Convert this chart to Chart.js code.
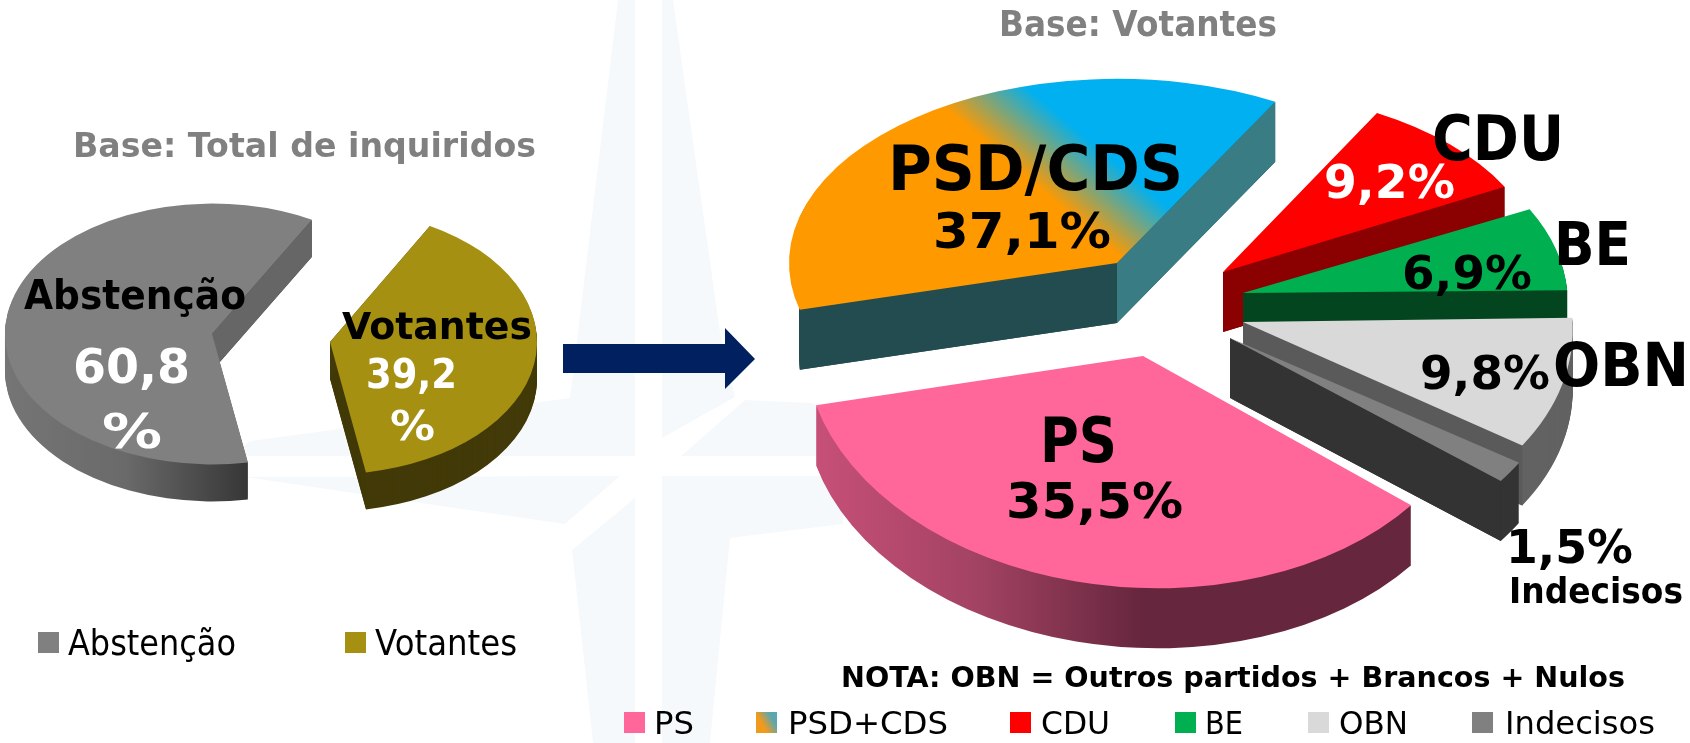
<!DOCTYPE html>
<html lang="pt">
<head>
<meta charset="utf-8">
<title>Base: Total de inquiridos / Votantes</title>
<script src="https://cdn.jsdelivr.net/npm/chart.js@4"></script>
<style>
    html, body { margin: 0; padding: 0; background: #fff; overflow: hidden; }
    #page { position: relative; width: 1690px; height: 743px; overflow: hidden; }
    #page canvas, #page svg { position: absolute; left: 0; top: 0; }
    .txt { position: absolute; white-space: pre; transform-origin: 0 50%; font-family: 'DejaVu Sans', sans-serif; }
    .box { position: absolute; width: 21px; height: 21px; }
</style>
</head>
<body>
<div id="page">
    <!-- filigrana de fundo e seta -->
    <svg width="1690" height="743">
        <g fill="#f6f9fc">
            <polygon points="618,0 635,0 635,456 232,456 250,441 570,398"/>
            <polygon points="662,0 673,0 720,332 735,397 662,438"/>
            <polygon points="681,456 745,400 810,403 1000,456"/>
            <polygon points="245,477 620,476 565,524 400,500"/>
            <polygon points="662,476 843,476 843,524 730,538 710,743 662,743"/>
            <polygon points="635,498 635,743 593,743 572,550"/>
        </g>
        <polygon fill="#002060" points="563,344 725,344 725,328 755,359 725,389 725,373 563,373"/>
    </svg>
    <canvas id="leftPie" width="1690" height="743"></canvas>
    <canvas id="rightPie" width="1690" height="743"></canvas>
</div>
<script>
const leftLabels = ['Abstenção', 'Votantes'];
const leftValues = [60.8, 39.2];
const rightLabels = ['PS', 'PSD/CDS', 'CDU', 'BE', 'OBN', 'Indecisos'];
const rightLegend = ['PS', 'PSD+CDS', 'CDU', 'BE', 'OBN', 'Indecisos'];
const rightValues = [35.5, 37.1, 9.2, 6.9, 9.8, 1.5];

function pct(v) { return String(v).replace('.', ','); }

// Fatias "3D": cada arco do Chart.js e achatado, deslocado e extrudido para baixo
// slices = [dx, dy, escalaX, escalaY, inclinacao] em relacao ao centro do grafico
function pie3d(slices, walls, depth, edges) {
    return {
        id: 'pie3d',
        beforeDatasetsDraw(chart) {
            const ctx = chart.ctx;
            chart.getDatasetMeta(0).data.forEach(function (arc, i) {
                const [dx, dy, sx, sy, shear] = slices[i];
                const place = function (down) {
                    ctx.translate(arc.x + dx, arc.y + dy + down);
                    ctx.transform(sx, shear, 0, sy, 0, 0);
                    ctx.translate(-arc.x, -arc.y);
                };
                const ax = arc.x + dx, ay = arc.y + dy;
                const corner = function (a) {
                    const c = arc.outerRadius * Math.cos(a), s = arc.outerRadius * Math.sin(a);
                    return [ax + sx * c, ay + sy * s + shear * c];
                };
                const sideEdges = edges[i] || [];

                const own = arc.options;
                arc.options = Object.assign({}, own, { backgroundColor: walls[i] });
                ctx.save();
                sideEdges.forEach(function (e) {
                    // parede cortada na vertical no canto da fatia
                    if (e.clip) {
                        ctx.beginPath();
                        ctx.rect(corner(e.side === 'start' ? arc.startAngle : arc.endAngle)[0], 0, chart.width, chart.height);
                        ctx.clip();
                    }
                });
                for (let d = depth; d > 0; d--) {
                    ctx.save();
                    place(d);
                    arc.draw(ctx);
                    ctx.restore();
                }
                ctx.restore();
                arc.options = own;

                // paredes dos cortes com cor propria
                sideEdges.forEach(function (e) {
                    const [bx, by] = corner(e.side === 'start' ? arc.startAngle : arc.endAngle);
                    ctx.fillStyle = e.color;
                    ctx.beginPath();
                    ctx.moveTo(ax, ay);
                    ctx.lineTo(bx, by);
                    ctx.lineTo(bx, by + depth);
                    ctx.lineTo(ax, ay + depth);
                    ctx.closePath();
                    ctx.fill();
                });

                ctx.save();
                place(0);
                arc.draw(ctx);
                ctx.restore();
            });
            return false;
        }
    };
}

function makePie(id, labels, values, colors, rotation, radius, padding, plugin) {
    return new Chart(document.getElementById(id), {
        type: 'pie',
        data: {
            labels: labels,
            datasets: [{ data: values, backgroundColor: colors, borderWidth: 0 }]
        },
        options: {
            responsive: false,
            animation: false,
            rotation: rotation,
            radius: radius,
            layout: { padding: padding },
            events: [],
            plugins: { legend: { display: false }, tooltip: { enabled: false } }
        },
        plugins: [plugin]
    });
}

function hGrad(ctx, x0, x1, stops) {
    const g = ctx.createLinearGradient(x0, 0, x1, 0);
    stops.forEach(function (c, i) { g.addColorStop(i / (stops.length - 1), c); });
    return g;
}

// Grafico da esquerda (centro 212,331)
const leftCtx = document.getElementById('leftPie').getContext('2d');
makePie('leftPie', leftLabels, leftValues, ['#808080', '#a69012'], 170, 207,
    { left: 0, right: 1266, top: 0, bottom: 81 },
    pie3d(
        [[0, 3, 1, 0.63, 0], [118, 11, 1, 0.64, 0]],
        [hGrad(leftCtx, 5, 245, ['#757575', '#6a6a6a', '#383838']), '#423a08'],
        37,
        [[{ side: 'end', color: '#666666' }], [{ side: 'start', color: '#423a08' }]]
    ));

// Grafico da direita (centro 1120,300)
const rightCtx = document.getElementById('rightPie').getContext('2d');
const psdTop = rightCtx.createLinearGradient(1065 - 38, 119 + 25, 1065 + 38, 119 - 25);
psdTop.addColorStop(0, '#ff9900');
psdTop.addColorStop(1, '#00b0f0');
makePie('rightPie', rightLabels, rightValues,
    ['#ff6699', psdTop, '#ff0000', '#00b050', '#d9d9d9', '#808080'], 127.5, 333,
    { left: 550, right: 0, top: 0, bottom: 143 },
    pie3d(
        [
            [23, 56, 1.015, 0.697, 0.03],
            [-3, -37, 0.985, 0.553, 0],
            [103, -28, 0.958, 0.545, 0],
            [123, -7, 0.975, 0.58, 0.024],
            [123, 22, 0.99, 0.66, 0.024],
            [110, 38, 1.025, 0.705, 0]
        ],
        [
            hGrad(rightCtx, 790, 1120, ['#c85079', '#a34363', '#66263d']),
            '#234c50', '#8b0000', '#03451f', '#626262', '#333333'
        ],
        60,
        [
            null,
            [{ side: 'start', color: '#234c50', clip: true }, { side: 'end', color: '#3a7c84' }],
            [{ side: 'end', color: '#8b0000' }],
            [{ side: 'end', color: '#03451f' }],
            [{ side: 'end', color: '#5a5a5a' }],
            [{ side: 'end', color: '#333333' }]
        ]
    ));

// Textos: [texto, x inicial, x final, linha de base, corpo, peso, cor]
const texts = [
    ['Base: Total de inquiridos', 73, 536, 157, 34, 'bold', '#808080'],
    ['Base: Votantes', 999, 1277, 36, 35, 'bold', '#808080'],
    [leftLabels[0], 24, 246, 309, 40, 'bold', '#000'],
    [pct(leftValues[0]), 73, 190, 383, 48, 'bold', '#fff'],
    ['%', 102, 162, 448, 48, 'bold', '#fff'],
    [leftLabels[1], 342, 532, 339, 38, 'bold', '#000'],
    [pct(leftValues[1]), 366, 457, 388, 40, 'bold', '#fff'],
    ['%', 390, 435, 440, 40, 'bold', '#fff'],
    [rightLabels[1], 888, 1183, 190, 62, 'bold', '#000'],
    [pct(rightValues[1]) + '%', 933, 1111, 248, 50, 'bold', '#000'],
    [rightLabels[2], 1432, 1564, 160, 63, 'bold', '#000'],
    [pct(rightValues[2]) + '%', 1324, 1455, 198, 46, 'bold', '#fff'],
    [rightLabels[3], 1554, 1631, 265, 60, 'bold', '#000'],
    [pct(rightValues[3]) + '%', 1402, 1532, 289, 46, 'bold', '#000'],
    [rightLabels[4], 1553, 1689, 386, 60, 'bold', '#000'],
    [pct(rightValues[4]) + '%', 1420, 1550, 389, 46, 'bold', '#000'],
    [pct(rightValues[5]) + '%', 1506, 1633, 563, 46, 'bold', '#000'],
    [rightLabels[5], 1509, 1683, 603, 35, 'bold', '#000'],
    [rightLabels[0], 1040, 1117, 462, 62, 'bold', '#000'],
    [pct(rightValues[0]) + '%', 1006, 1183, 518, 50, 'bold', '#000'],
    ['NOTA: OBN = Outros partidos + Brancos + Nulos', 841, 1625, 687, 29, 'bold', '#000'],
    // legendas
    [leftLabels[0], 68, 236, 655, 36, 'normal', '#000'],
    [leftLabels[1], 375, 517, 655, 36, 'normal', '#000'],
    [rightLegend[0], 654, 694, 734, 32, 'normal', '#000'],
    [rightLegend[1], 788, 948, 734, 32, 'normal', '#000'],
    [rightLegend[2], 1041, 1110, 734, 32, 'normal', '#000'],
    [rightLegend[3], 1205, 1243, 734, 32, 'normal', '#000'],
    [rightLegend[4], 1339, 1408, 734, 32, 'normal', '#000'],
    [rightLegend[5], 1505, 1655, 734, 32, 'normal', '#000']
];

const page = document.getElementById('page');
const measure = document.createElement('canvas').getContext('2d');
texts.forEach(function (t) {
    const [str, x0, x1, base, size, weight, color] = t;
    measure.font = weight + ' ' + size + "px 'DejaVu Sans'";
    const m = measure.measureText(str);
    const el = document.createElement('div');
    el.className = 'txt';
    el.textContent = str;
    el.style.font = measure.font;
    el.style.lineHeight = size + 'px';
    el.style.color = color;
    el.style.left = x0 + 'px';
    el.style.top = (base - ((size - m.fontBoundingBoxAscent - m.fontBoundingBoxDescent) / 2 + m.fontBoundingBoxAscent)) + 'px';
    el.style.transform = 'scaleX(' + ((x1 - x0) / m.width) + ')';
    page.appendChild(el);
});

// Quadrados das legendas: [x, y, cor]
const boxes = [
    [38, 632, '#808080'], [345, 632, '#a69012'],
    [624, 712, '#ff6699'], [756, 712, 'linear-gradient(60deg, #f09a1e 35%, #5ba7b0 75%)'],
    [1010, 712, '#ff0000'], [1175, 712, '#00b050'], [1308, 712, '#d9d9d9'], [1472, 712, '#808080']
];
boxes.forEach(function (b) {
    const el = document.createElement('div');
    el.className = 'box';
    el.style.left = b[0] + 'px';
    el.style.top = b[1] + 'px';
    el.style.background = b[2];
    page.appendChild(el);
});
</script>
</body>
</html>
